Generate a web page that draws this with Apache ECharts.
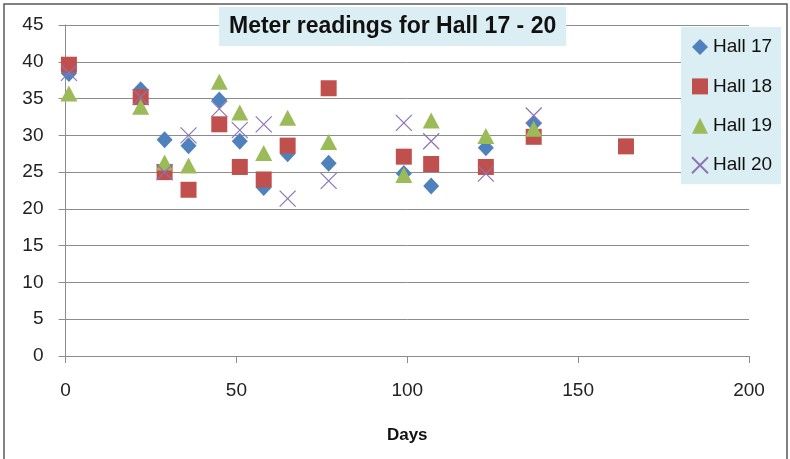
<!DOCTYPE html>
<html>
<head>
<meta charset="utf-8">
<script src="https://cdn.jsdelivr.net/npm/echarts@6/dist/echarts.min.js"></script>
<style>
html,body{margin:0;padding:0;background:#fff;}
#chart{width:790px;height:459px;}
</style>
</head>
<body>
<div id="chart"></div>
<script>
const days   = [1, 22, 29, 36, 45, 51, 58, 65, 77, 99, 107, 123, 137, 164];
const hall17 = [38.4, 36.2, 29.4, 28.6, 34.8, 29.2, 22.9, 27.5, 26.2, 24.8, 23.1, 28.3, 31.6, null];
const hall18 = [39.6, 35.2, 25.0, 22.6, 31.5, 25.7, 24.0, 28.6, 36.4, 27.1, 26.1, 25.7, 29.8, 28.5];
const hall19 = [35.7, 33.9, 26.3, 25.9, 37.3, 33.1, 27.6, 32.4, 29.1, 24.6, 32.0, 29.9, 30.9, null];
const hall20 = [38.5, 35.2, 25.0, 30.0, 33.6, 30.7, 31.5, 21.4, 23.8, 31.7, 29.2, 24.8, 32.7, null];
const seriesNames = ['Hall 17', 'Hall 18', 'Hall 19', 'Hall 20'];
const titleText = 'Meter readings for Hall 17 - 20';
const xAxisName = 'Days';

function pairs(vals) {
  const out = [];
  for (let i = 0; i < days.length; i++) {
    if (vals[i] !== null && vals[i] !== undefined) out.push([days[i], vals[i]]);
  }
  return out;
}

const FONT = '"Liberation Sans", Arial, sans-serif';
const boxColor = '#DAEEF3';
const gridColor = '#8C8C8C';

const chart = echarts.init(document.getElementById('chart'), null, {renderer: 'canvas'});
chart.setOption({
  animation: false,
  backgroundColor: '#ffffff',
  textStyle: {fontFamily: FONT},
  title: {
    text: titleText,
    left: 219,
    top: 7,
    padding: [7, 10, 7, 10],
    backgroundColor: boxColor,
    textStyle: {fontFamily: FONT, fontSize: 23, fontWeight: 'bold', color: '#111', lineHeight: 25}
  },
  legend: {
    orient: 'vertical',
    left: 681,
    top: 27,
    padding: [10, 9, 9, 10],
    backgroundColor: boxColor,
    itemWidth: 16,
    itemHeight: 16,
    itemGap: 19.4,
    textStyle: {fontFamily: FONT, fontSize: 19, color: '#111', lineHeight: 20},
    data: seriesNames
  },
  grid: {left: 65.5, right: 41, top: 25, bottom: 103, containLabel: false, outerBoundsMode: 'none'},
  xAxis: {
    type: 'value',
    min: 0, max: 200, interval: 50,
    name: xAxisName,
    nameLocation: 'middle',
    nameGap: 71,
    nameTextStyle: {fontFamily: FONT, fontSize: 17, fontWeight: 'bold', color: '#111'},
    axisLine: {show: true, lineStyle: {color: gridColor, width: 1}},
    axisTick: {show: true, length: 7, lineStyle: {color: gridColor}},
    axisLabel: {fontFamily: FONT, fontSize: 19, color: '#222', margin: 25},
    splitLine: {show: false}
  },
  yAxis: {
    type: 'value',
    min: 0, max: 45, interval: 5,
    axisLine: {show: true, lineStyle: {color: gridColor, width: 1}},
    axisTick: {show: true, length: 7, lineStyle: {color: gridColor}},
    axisLabel: {fontFamily: FONT, fontSize: 19, color: '#222', margin: 22},
    splitLine: {show: true, lineStyle: {color: gridColor, width: 1}}
  },
  graphic: [{
    type: 'rect',
    silent: true,
    z: 100,
    shape: {x: 4, y: 4, width: 783, height: 470},
    style: {fill: 'none', stroke: '#5a5a5a', lineWidth: 1.5}
  }],
  series: [
    {
      name: seriesNames[0], type: 'scatter', data: pairs(hall17),
      symbol: 'diamond', symbolSize: [16, 17],
      itemStyle: {color: '#4F81BD', opacity: 1}
    },
    {
      name: seriesNames[1], type: 'scatter', data: pairs(hall18),
      symbol: 'rect', symbolSize: 16,
      itemStyle: {color: '#C0504D', opacity: 1}
    },
    {
      name: seriesNames[2], type: 'scatter', data: pairs(hall19),
      symbol: 'triangle', symbolSize: [17, 16],
      itemStyle: {color: '#9BBB59', opacity: 1}
    },
    {
      name: seriesNames[3], type: 'scatter', data: pairs(hall20),
      symbol: 'path://M0,0L10,10M10,0L0,10', symbolSize: 16,
      itemStyle: {color: 'rgba(0,0,0,0)', borderColor: '#8C74B4', borderWidth: 1.2, opacity: 1}
    }
  ]
});
</script>
</body>
</html>
